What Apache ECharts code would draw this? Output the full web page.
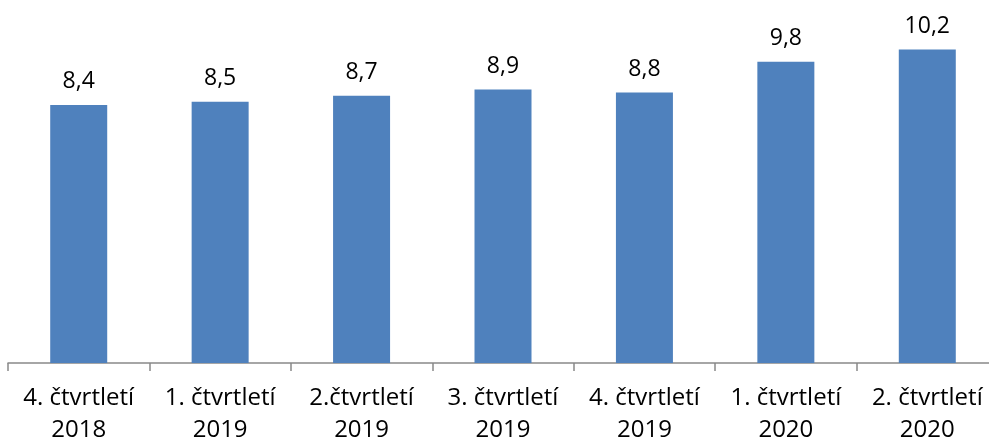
<!DOCTYPE html>
<html>
<head>
<meta charset="utf-8">
<script src="https://cdn.jsdelivr.net/npm/echarts@6/dist/echarts.min.js"></script>
<style>
html,body{margin:0;padding:0;background:#fff;}
#c{width:989px;height:441px;}
</style>
</head>
<body>
<div id="c"></div>
<script>
var categories = ["4. čtvrtletí\n2018","1. čtvrtletí\n2019","2.čtvrtletí\n2019","3. čtvrtletí\n2019","4. čtvrtletí\n2019","1. čtvrtletí\n2020","2. čtvrtletí\n2020"];
var values = [8.4, 8.5, 8.7, 8.9, 8.8, 9.8, 10.2];

var chart = echarts.init(document.getElementById('c'));
chart.setOption({
  animation: false,
  grid: {left: 8, width: 990, top: 25, bottom: 78, containLabel: false, outerBoundsMode: 'none'},
  xAxis: {
    type: 'category',
    data: categories,
    axisLine: {lineStyle: {color: '#898989', width: 1.5}},
    axisTick: {show: true, length: 8, lineStyle: {color: '#898989', width: 1.5}},
    axisLabel: {color: '#000', fontFamily: 'Open Sans', fontSize: 24, lineHeight: 32, margin: 19, interval: 0}
  },
  yAxis: {
    type: 'value', min: 0, max: 11, show: false, splitLine: {show: false}
  },
  series: [{
    type: 'bar',
    data: values,
    barWidth: 57,
    itemStyle: {color: '#4F81BD'},
    label: {
      show: true, position: 'top', distance: 12,
      color: '#000', fontFamily: 'Open Sans', fontSize: 23,
      formatter: function(p){ return String(p.value).replace('.', ','); }
    }
  }]
});
</script>
</body>
</html>
